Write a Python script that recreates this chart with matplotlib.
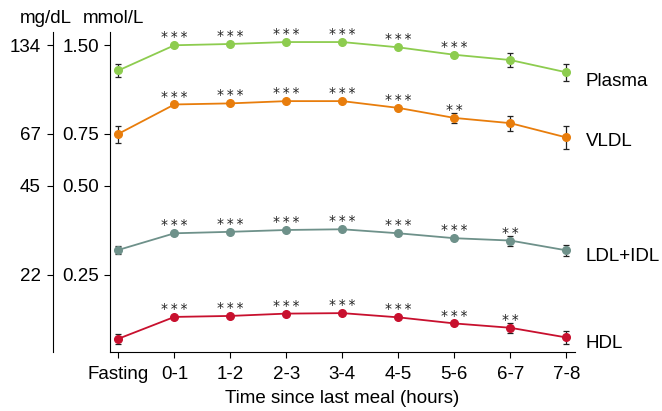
import numpy as np
import matplotlib
matplotlib.use("Agg")
import matplotlib.pyplot as plt

plt.rcParams['font.family'] = ['Liberation Sans', 'DejaVu Sans']

# Data (mmol/L)
times = ["Fasting", "0-1", "1-2", "2-3", "3-4", "4-5", "5-6", "6-7", "7-8"]

plasma = [1.23, 1.497, 1.512, 1.535, 1.535, 1.473, 1.39, 1.334, 1.212]
plasma_err = [0.065, 0.01, 0.01, 0.01, 0.01, 0.012, 0.02, 0.07, 0.08]
plasma_sig = ["", "***", "***", "***", "***", "***", "***", "", ""]

vldl = [0.75, 0.943, 0.951, 0.968, 0.968, 0.918, 0.849, 0.815, 0.729]
vldl_err = [0.05, 0.008, 0.008, 0.008, 0.008, 0.01, 0.03, 0.05, 0.065]
vldl_sig = ["", "***", "***", "***", "***", "***", "**", "", ""]

ldl = [0.303, 0.345, 0.349, 0.354, 0.356, 0.345, 0.332, 0.326, 0.302]
ldl_err = [0.01, 0.004, 0.004, 0.004, 0.004, 0.004, 0.005, 0.013, 0.014]
ldl_sig = ["", "***", "***", "***", "***", "***", "***", "**", ""]

hdl = [0.1515, 0.1796, 0.181, 0.1843, 0.185, 0.179, 0.1707, 0.165, 0.153]
hdl_err = [0.006, 0.002, 0.002, 0.002, 0.002, 0.002, 0.002, 0.006, 0.0075]
hdl_sig = ["", "***", "***", "***", "***", "***", "***", "**", ""]

names = ["Plasma", "VLDL", "LDL+IDL", "HDL"]
colors = ["#8dcc4f", "#e87d0c", "#6e918a", "#c8102e"]
label_dy = [-9.9, -6.0, -7.9, -7.6]  # baseline offset (pt) of series names

mmol_ticks = [0.25, 0.50, 0.75, 1.50]
mmol_labels = ["0.25", "0.50", "0.75", "1.50"]
mgdl_labels = ["22", "45", "67", "134"]

fs = 13.5

fig = plt.figure(figsize=(6.62, 4.11), dpi=100)
ax = fig.add_axes([0.1662, 0.1436, 0.7024, 0.7785])

x = np.arange(len(times))
series = [(plasma, plasma_err, plasma_sig), (vldl, vldl_err, vldl_sig),
          (ldl, ldl_err, ldl_sig), (hdl, hdl_err, hdl_sig)]

for (vals, errs, sig), name, col, dy in zip(series, names, colors, label_dy):
    ax.errorbar(x, vals, yerr=errs, color=col, lw=1.3, marker='o', ms=5.5,
                ecolor='#222222', elinewidth=0.9, capsize=2.5, capthick=0.9, zorder=3)
    for xi, v, s in zip(x, vals, sig):
        if s:
            ax.annotate("\u2009".join(s), (xi, v), xytext=(0, 2.8), textcoords='offset points',
                        ha='center', va='baseline', fontsize=10, family='DejaVu Sans',
                        color='#222222')
    ax.annotate(name, (x[-1], vals[-1]), xytext=(14, dy), textcoords='offset points',
                ha='left', va='baseline', fontsize=fs, annotation_clip=False)

ax.set_yscale('log')
ax.set_ylim(0.1366, 1.66)
ax.set_xlim(-0.15, 8.155)
ax.set_yticks(mmol_ticks)
ax.set_yticklabels(mmol_labels)
ax.yaxis.set_minor_locator(matplotlib.ticker.NullLocator())
ax.set_xticks(x)
ax.set_xticklabels(times)
ax.tick_params(labelsize=fs, length=4, width=0.8)
ax.tick_params(axis='x', pad=6)
ax.tick_params(axis='y', pad=4)
ax.set_xlabel("Time since last meal (hours)", fontsize=fs, labelpad=5)
for sp in ['top', 'right']:
    ax.spines[sp].set_visible(False)

# second (mg/dL) axis on the left
ax2 = ax.twinx()
ax2.set_yscale('log')
ax2.set_ylim(ax.get_ylim())
ax2.yaxis.set_ticks_position('left')
ax2.yaxis.set_label_position('left')
ax2.spines['left'].set_position(('outward', 41))
for sp in ['top', 'right', 'bottom']:
    ax2.spines[sp].set_visible(False)
ax2.set_yticks(mmol_ticks)
ax2.set_yticklabels(mgdl_labels)
ax2.yaxis.set_minor_locator(matplotlib.ticker.NullLocator())
ax2.tick_params(labelsize=fs, length=4, width=0.8, pad=5)

fig.text(45.5 / 662, 1 - 23 / 411, "mg/dL", ha='center', va='baseline', fontsize=fs)
fig.text(113.3 / 662, 1 - 23 / 411, "mmol/L", ha='center', va='baseline', fontsize=fs)

fig.savefig("out.png", dpi=100)
